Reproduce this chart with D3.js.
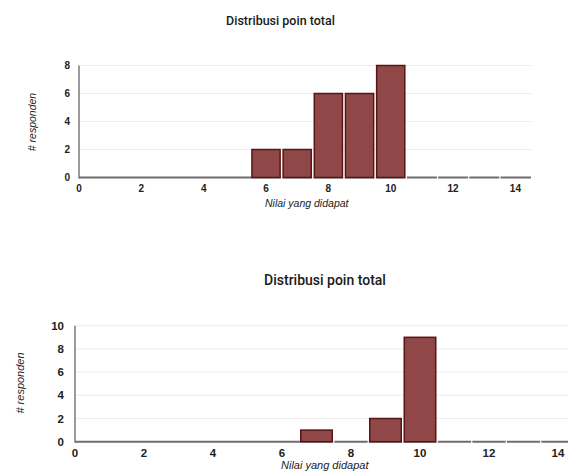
<!DOCTYPE html>
<html><head><meta charset="utf-8">
<script src="https://cdn.jsdelivr.net/npm/d3@7"></script>
<style>html,body{margin:0;padding:0;background:#fff;overflow:hidden}</style>
</head><body>
<svg id="c" width="568" height="472"></svg>
<script>
const title = "Distribusi poin total";
const xTitle = "Nilai yang didapat";
const yTitle = "# responden";
const xTicks = [0, 2, 4, 6, 8, 10, 12, 14];
// chart 1
const bins1 = [6, 7, 8, 9, 10, 11, 12, 13, 14];
const counts1 = [2, 2, 6, 6, 8, 0, 0, 0, 0];
const yTicks1 = [0, 2, 4, 6, 8];
// chart 2
const bins2 = [7, 8, 9, 10, 11, 12, 13, 14];
const counts2 = [1, 0, 2, 9, 0, 0, 0, 0];
const yTicks2 = [0, 2, 4, 6, 8, 10];

const svg = d3.select("#c");

function draw(cfg) {
  const g = svg.append("g");
  const x = d3.scaleLinear().domain([0, 14.5]).range([cfg.x0, cfg.x1]);
  const y = d3.scaleLinear().domain([0, cfg.ymax]).range([cfg.y0, cfg.y1]);
  g.selectAll(".grid").data(cfg.yTicks.slice(1)).join("line")
    .attr("x1", cfg.x0).attr("x2", cfg.x1)
    .attr("y1", d => y(d)).attr("y2", d => y(d))
    .attr("stroke", "#ececec").attr("stroke-width", 1);
  g.append("text").attr("x", cfg.tx).attr("y", cfg.ty)
    .attr("text-anchor", "middle").attr("font-family", "Roboto")
    .attr("font-weight", "500").attr("font-size", cfg.tfs).attr("fill", "#1a1a1a")
    .text(title);
  g.selectAll(".yl").data(cfg.yTicks).join("text")
    .attr("x", cfg.ylx).attr("y", d => y(d)).attr("dy", "0.35em")
    .attr("text-anchor", "end").attr("font-family", "Liberation Sans")
    .attr("font-weight", "bold").attr("font-size", cfg.fs).attr("fill", "#222")
    .text(d => d);
  g.selectAll(".xl").data(xTicks).join("text")
    .attr("x", d => x(d)).attr("y", cfg.xly).attr("dy", "0.35em")
    .attr("text-anchor", "middle").attr("font-family", "Liberation Sans")
    .attr("font-weight", "bold").attr("font-size", cfg.fs).attr("fill", "#222")
    .text(d => d);
  g.append("text").attr("transform", `translate(${cfg.ytx},${cfg.yty}) rotate(-90)`)
    .attr("text-anchor", "middle").attr("font-family", "Liberation Sans")
    .attr("font-style", "italic").attr("font-size", cfg.afs).attr("fill", "#222")
    .text(yTitle);
  g.append("text").attr("x", cfg.xtx).attr("y", cfg.xty)
    .attr("text-anchor", "start").attr("font-family", "Liberation Sans")
    .attr("font-style", "italic").attr("font-size", cfg.afs).attr("fill", "#222")
    .text(xTitle);
  g.append("line").attr("x1", cfg.x0).attr("x2", cfg.x1)
    .attr("y1", cfg.y0).attr("y2", cfg.y0)
    .attr("stroke", "#6e6e6e").attr("stroke-width", 2);
  g.append("line").attr("x1", cfg.x0).attr("x2", cfg.x0)
    .attr("y1", cfg.y0 + 1).attr("y2", cfg.y1)
    .attr("stroke", "#7a7a7a").attr("stroke-width", 1.5);
  const data = cfg.bins.map((b, i) => ({ b, v: cfg.counts[i] }));
  g.selectAll(".bar").data(data.filter(d => d.v > 0)).join("rect")
    .attr("x", d => x(d.b - 0.5) + 1.5)
    .attr("width", d => x(d.b + 0.5) - x(d.b - 0.5) - 3)
    .attr("y", d => y(d.v))
    .attr("height", d => y(0) - y(d.v))
    .attr("fill", "#8f4747").attr("stroke", "#5a1414").attr("stroke-width", 1.5);
  g.selectAll(".gap").data(cfg.bins.slice(1)).join("line")
    .attr("x1", d => x(d - 0.5)).attr("x2", d => x(d - 0.5))
    .attr("y1", cfg.y0 - 1.5).attr("y2", cfg.y0 + 1.5)
    .attr("stroke", "#fff").attr("stroke-width", 1.2);
}

draw({ x0: 79, x1: 531, y0: 177.5, y1: 65.5, ymax: 8, yTicks: yTicks1,
  bins: bins1, counts: counts1, tx: 280.5, ty: 25, tfs: 12.5, fs: 10, afs: 10.5,
  ylx: 70, xly: 188, ytx: 36, yty: 122, xtx: 265, xty: 207 });
draw({ x0: 75, x1: 575.25, y0: 441.7, y1: 325.7, ymax: 10, yTicks: yTicks2,
  bins: bins2, counts: counts2, tx: 325, ty: 285, tfs: 14, fs: 11.5, afs: 11,
  ylx: 64, xly: 453, ytx: 24, yty: 383, xtx: 281, xty: 469 });
</script>
</body></html>
